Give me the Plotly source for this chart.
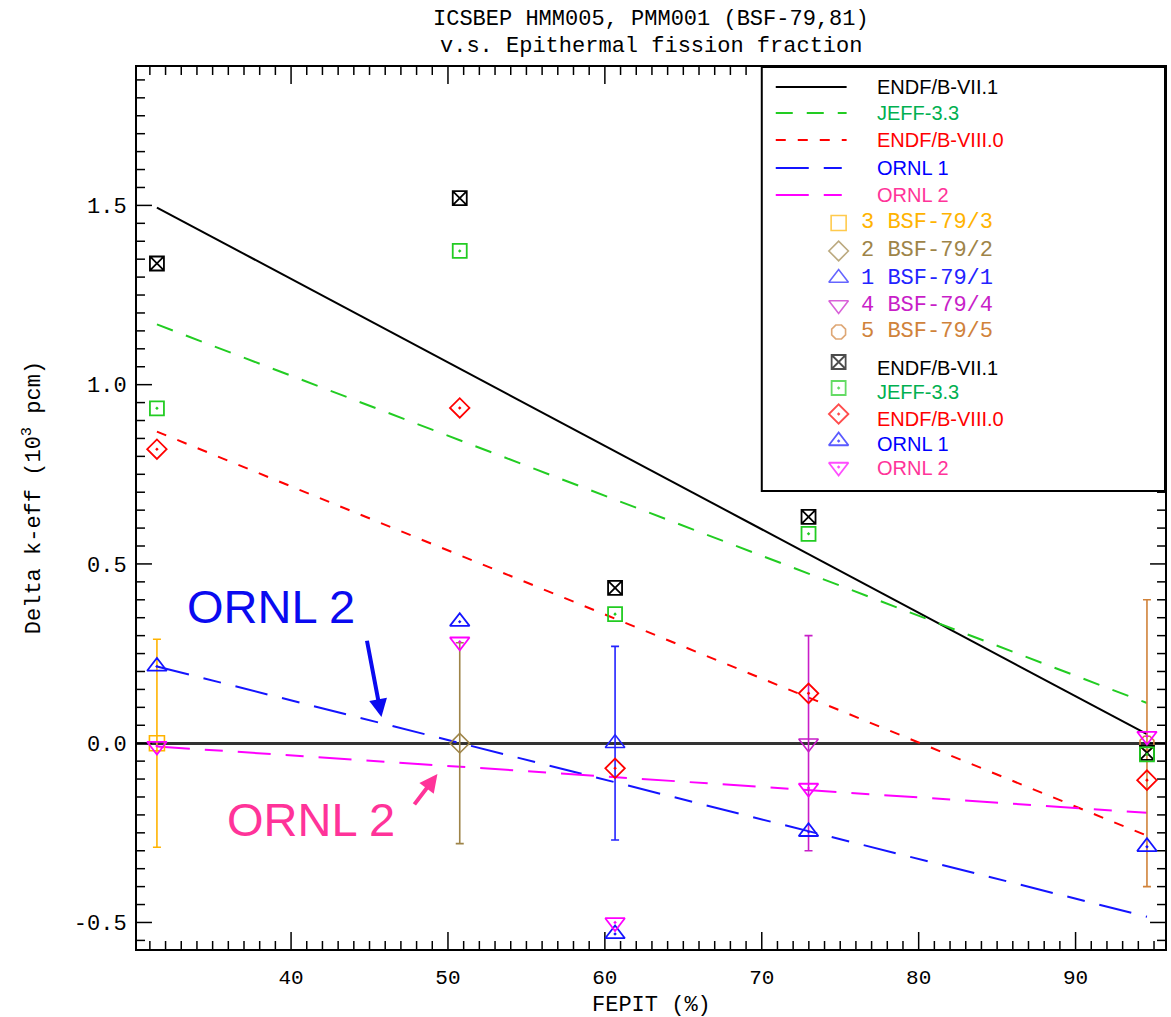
import plotly.graph_objects as go

# ---------------- data ----------------
fepit = [31.45, 50.75, 60.65, 72.98, 94.55]          # FEPIT (%) of the 5 configurations
exp_labels = ["3 BSF-79/3", "2 BSF-79/2", "1 BSF-79/1", "4 BSF-79/4", "5 BSF-79/5"]
exp_delta = [0.0, 0.0, 0.0, 0.0, 0.0]
exp_unc = [0.29, 0.28, 0.27, 0.30, 0.40]

calc_endf71 = [1.338, 1.520, 0.433, 0.631, -0.027]
calc_jeff33 = [0.934, 1.373, 0.360, 0.584, -0.031]
calc_endf80 = [0.820, 0.935, -0.070, 0.139, -0.103]
calc_ornl1 = [0.214, 0.339, -0.532, -0.247, -0.289]
calc_ornl2 = [-0.008, 0.283, -0.500, -0.125, 0.020]

fit_x = [31.45, 94.55]
fit_endf71 = [1.494, 0.025]
fit_jeff33 = [1.168, 0.112]
fit_endf80 = [0.869, -0.258]
fit_ornl1 = [0.214, -0.484]
fit_ornl2 = [-0.009, -0.194]

lib_names = ["ENDF/B-VII.1", "JEFF-3.3", "ENDF/B-VIII.0", "ORNL 1", "ORNL 2"]
x_tickvals = [40, 50, 60, 70, 80, 90]
x_minorvals = list(range(31, 96))
y_tickvals = [-0.5, 0.0, 0.5, 1.0, 1.5]
y_ticktext = ["-0.5", "0.0", "0.5", "1.0", "1.5"]
y_minorvals = [round(-0.55 + 0.05 * k, 2) for k in range(49)]

# ---------------- styles ----------------
exp_colors = ["#FFB300", "#9E8448", "#2323FF", "#C81EC8", "#D0823A"]
exp_symbols = ["square-open", "diamond-open", "triangle-up-open", "triangle-down-open", "octagon-open"]
exp_sizes = [15, 15, 17, 17, 15]
lib_line_colors = ["#000000", "#22CC22", "#FF0000", "#1414FF", "#FF00FF"]
lib_text_colors = ["#000000", "#00B050", "#FF0000", "#0000FF", "#FF3399"]
lib_dash = ["solid", "17px,14px", "10px,12px", "33px,15px,18px,15px", "33px,15px,18px,15px"]
lib_symbols = ["square-x-open", "square-open-dot", "diamond-open-dot", "triangle-up-open-dot", "triangle-down-open-dot"]
lib_sizes = [14, 14, 15, 17, 17]

MONO = "Liberation Mono"
SANS = "Liberation Sans"

X_RANGE = [30.18, 95.70]
Y_RANGE = [-0.574, 1.886]

# plot area in page pixels
L, R, T, B = 137, 1167, 67, 949
def px(X):
    return (X - L) / (R - L)
def py(Y):
    return (B - Y) / (B - T)
def dx(X):   # page pixel -> x data (decoration only)
    return X_RANGE[0] + px(X) * (X_RANGE[1] - X_RANGE[0])
def dy(Y):
    return Y_RANGE[0] + py(Y) * (Y_RANGE[1] - Y_RANGE[0])
XPX = (X_RANGE[1] - X_RANGE[0]) / (R - L)   # x data units per pixel
YPX = (Y_RANGE[1] - Y_RANGE[0]) / (B - T)   # y data units per pixel

fig = go.Figure()

# ---------------- inside tick marks on all four sides ----------------
tx, ty = [], []
for v in x_minorvals:
    ln = (17 if v in x_tickvals else 8) * YPX
    tx += [v, v, None, v, v, None]
    ty += [Y_RANGE[0], Y_RANGE[0] + ln, None, Y_RANGE[1], Y_RANGE[1] - ln, None]
for v in y_minorvals:
    ln = (15 if v in y_tickvals else 8) * XPX
    tx += [X_RANGE[0], X_RANGE[0] + ln, None, X_RANGE[1], X_RANGE[1] - ln, None]
    ty += [v, v, None, v, v, None]
fig.add_trace(go.Scatter(x=tx, y=ty, mode="lines", line=dict(color="black", width=1.5),
                         showlegend=False, hoverinfo="skip", connectgaps=False))

# ---------------- legend box ----------------
fig.add_trace(go.Scatter(x=[dx(763), dx(1167), dx(1167), dx(763), dx(763)],
                         y=[dy(67), dy(67), dy(491), dy(491), dy(67)],
                         mode="lines", fill="toself", fillcolor="white",
                         line=dict(color="black", width=2), showlegend=False, hoverinfo="skip"))

fits = [fit_endf71, fit_jeff33, fit_endf80, fit_ornl1, fit_ornl2]
calcs = [calc_endf71, calc_jeff33, calc_endf80, calc_ornl1, calc_ornl2]

# regression lines
for name, fy, col, dash in zip(lib_names, fits, lib_line_colors, lib_dash):
    fig.add_trace(go.Scatter(x=fit_x, y=fy, mode="lines", name=name,
                             line=dict(color=col, width=2, dash=dash), showlegend=False))

# experiments with uncertainties
for i in range(len(fepit)):
    fig.add_trace(go.Scatter(
        x=[fepit[i]], y=[exp_delta[i]], mode="markers", name=exp_labels[i],
        marker=dict(symbol=exp_symbols[i], size=exp_sizes[i], color=exp_colors[i],
                    line=dict(width=1.6, color=exp_colors[i])),
        error_y=dict(type="data", array=[exp_unc[i]], color=exp_colors[i], thickness=1.6, width=4),
        showlegend=False))

# calculated values
for name, cy, col, sym, sz in zip(lib_names, calcs, lib_line_colors, lib_symbols, lib_sizes):
    fig.add_trace(go.Scatter(x=fepit, y=cy, mode="markers", name=name,
                             marker=dict(symbol=sym, size=sz, color=col, line=dict(width=1.8, color=col)),
                             showlegend=False))

# ---------------- hand-made legend ----------------
annotations = []
line_rows = [87, 113, 140, 168, 195]
for i, yy in enumerate(line_rows):
    fig.add_trace(go.Scatter(x=[dx(777), dx(848)], y=[dy(yy), dy(yy)], mode="lines",
                             line=dict(color=lib_line_colors[i], width=2, dash=lib_dash[i]),
                             showlegend=False, hoverinfo="skip"))
    annotations.append(dict(xref="paper", yref="paper", x=px(876), y=py(yy), xanchor="left", yanchor="middle",
                            text=lib_names[i], showarrow=False,
                            font=dict(family=SANS, size=20, color=lib_text_colors[i])))

exp_rows = [223, 251, 278, 305, 332]
fig.add_trace(go.Scatter(x=[dx(840)] * 5, y=[dy(v) for v in exp_rows],
                         mode="markers", showlegend=False, hoverinfo="skip",
                         marker=dict(symbol=exp_symbols, size=exp_sizes, color=exp_colors,
                                     line=dict(width=1.6, color=exp_colors))))
for i, yy in enumerate(exp_rows):
    annotations.append(dict(xref="paper", yref="paper", x=px(860), y=py(yy), xanchor="left", yanchor="middle",
                            text=exp_labels[i], showarrow=False,
                            font=dict(family=MONO, size=22, color=exp_colors[i])))

calc_sym_rows = [362, 388, 414, 441, 467]
calc_txt_rows = [368, 392, 419, 444, 468]
fig.add_trace(go.Scatter(x=[dx(840)] * 5, y=[dy(v) for v in calc_sym_rows],
                         mode="markers", showlegend=False, hoverinfo="skip",
                         marker=dict(symbol=lib_symbols, size=lib_sizes, color=lib_line_colors,
                                     line=dict(width=1.8, color=lib_line_colors))))
for i, yy in enumerate(calc_txt_rows):
    annotations.append(dict(xref="paper", yref="paper", x=px(876), y=py(yy), xanchor="left", yanchor="middle",
                            text=lib_names[i], showarrow=False,
                            font=dict(family=SANS, size=20, color=lib_text_colors[i])))

# ---------------- titles ----------------
annotations.append(dict(xref="paper", yref="paper", x=px(652), y=py(20), xanchor="center", yanchor="middle",
                        text="ICSBEP HMM005, PMM001 (BSF-79,81)", showarrow=False,
                        font=dict(family=MONO, size=22, color="black")))
annotations.append(dict(xref="paper", yref="paper", x=px(652), y=py(46), xanchor="center", yanchor="middle",
                        text="v.s. Epithermal fission fraction", showarrow=False,
                        font=dict(family=MONO, size=22, color="black")))
annotations.append(dict(xref="paper", yref="paper", x=px(652), y=py(1005), xanchor="center", yanchor="middle",
                        text="FEPIT (%)", showarrow=False, font=dict(family=MONO, size=22, color="black")))
annotations.append(dict(xref="paper", yref="paper", x=px(32), y=py(498), xanchor="center", yanchor="middle",
                        text="Delta k-eff (10<sup>3</sup> pcm)", textangle=-90, showarrow=False,
                        font=dict(family=MONO, size=22, color="black")))

# ---------------- callouts ----------------
annotations.append(dict(x=38.72, y=0.380, xref="x", yref="y", text="ORNL 2", showarrow=False,
                        font=dict(family=SANS, size=47, color="#0A0AF0")))
annotations.append(dict(x=45.76, y=0.073, xref="x", yref="y", ax=44.68, ay=0.322, axref="x", ayref="y",
                        text=" ", showarrow=True, arrowhead=2, arrowsize=0.9, arrowwidth=4, arrowcolor="#0A0AF0"))
annotations.append(dict(x=41.24, y=-0.214, xref="x", yref="y", text="ORNL 2", showarrow=False,
                        font=dict(family=SANS, size=47, color="#FF3399")))
annotations.append(dict(x=49.33, y=-0.086, xref="x", yref="y", ax=47.35, ay=-0.200, axref="x", ayref="y",
                        text=" ", showarrow=True, arrowhead=2, arrowsize=0.9, arrowwidth=4, arrowcolor="#FF3399"))

fig.update_layout(
    width=1171, height=1017,
    margin=dict(l=L, r=1171 - R, t=T, b=1017 - B),
    paper_bgcolor="white", plot_bgcolor="white",
    font=dict(family=MONO, size=21, color="black"),
    showlegend=False,
    annotations=annotations,
)
fig.update_xaxes(range=X_RANGE, tickmode="array", tickvals=x_tickvals, ticks="",
                 showline=True, linecolor="black", linewidth=2, mirror=True,
                 showgrid=False, zeroline=False, ticklabelstandoff=8)
fig.update_yaxes(range=Y_RANGE, tickmode="array", tickvals=y_tickvals, ticktext=y_ticktext, ticks="",
                 showline=True, linecolor="black", linewidth=2, mirror=True,
                 showgrid=False, zeroline=True, zerolinecolor="#333333", zerolinewidth=2.5,
                 ticklabelstandoff=4, tickfont=dict(size=22))

fig.write_html("out.html")
